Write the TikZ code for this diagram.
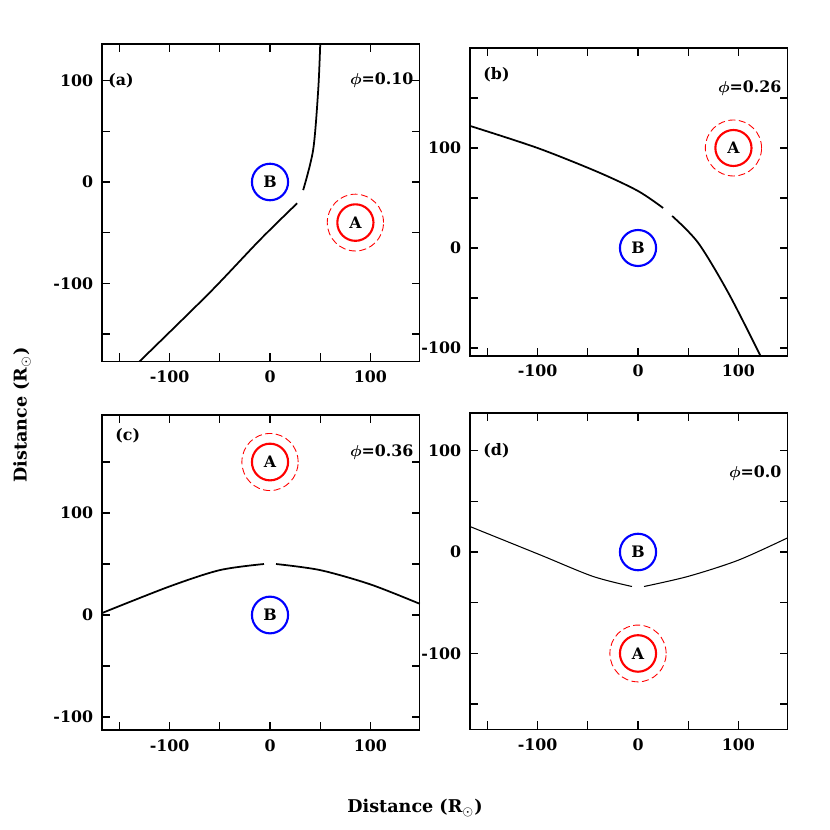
\documentclass[tikz,border=0pt]{standalone}
\usepackage{amsmath}
\usepackage{fontspec}
\setmainfont{DejaVu Serif}
\begin{document}
\tikzset{
  starA/.style={red, line width=1.2pt},
  starAout/.style={red, dashed, dash pattern=on 4pt off 2pt, line width=0.5pt},
  starB/.style={blue, line width=1.2pt},
  orbit/.style={line width=1pt},
  lab/.style={font=\bfseries\small},
  starlab/.style={font=\bfseries\small, text=black},
}
% frame with ticks every 50 units: xmin, xmax, ymin, ymax
\newcommand\panelframe[4]{%
  \draw[line width=0.9pt] (#1,#3) rectangle (#2,#4);
  \foreach \t in {-150,-100,...,100} {
    \draw[line width=0.8pt] (\t,#3) -- ++(0,8);
    \draw[line width=0.8pt] (\t,#4) -- ++(0,-8);
  }
  \foreach \t in {-150,-100,...,200} {
    \ifdim \t pt>#3pt \ifdim \t pt<#4pt
      \draw[line width=0.8pt] (#1,\t) -- ++(8,0);
      \draw[line width=0.8pt] (#2,\t) -- ++(-8,0);
    \fi\fi
  }
  \foreach \t in {-100,0,100}
    \node[lab, below] at (\t,#3-3) {\t};
}
\newcommand\ylabels[1]{%
  \foreach \t in {#1}
    \node[lab, left] at (-170,\t) {\t};
}
\begin{tikzpicture}[x=0.02cm, y=-0.02cm]
\useasboundingbox (0,0) rectangle (830,830);

% panel (a)
\begin{scope}[shift={(270,182)}, x=0.0201cm, y=0.0203cm]
  \panelframe{-167}{149}{-177}{136}
  \ylabels{-100,0,100}
  \node[lab, right] at (-167,100) {(a)};
  \node[lab, left] at (149,100) {$\boldsymbol{\phi}$=0.10};
  \draw[starB] (0,0) circle (18) node[starlab] (Ba) {B};
  \draw[starA] (85,-40) circle (18) node[starlab] (Aa) {A};
  \draw[starAout] (85,-40) circle (28);
  \draw[orbit] plot[smooth] coordinates {(-130,-177) (-60,-109) (-10,-57) (27,-21)};
  \draw[orbit] plot[smooth] coordinates {(33,-8) (43,32) (48,91) (50,136)};
\end{scope}

% panel (b)
\begin{scope}[shift={(638,248)}, x=0.0201cm, y=0.0200cm]
  \panelframe{-167}{149}{-108}{200}
  \ylabels{-100,0,100}
  \node[lab, right] at (-160,173) {(b)};
  \node[lab, left] at (149,160) {$\boldsymbol{\phi}$=0.26};
  \draw[starB] (0,0) circle (18) node[starlab] (Bb) {B};
  \draw[starA] (95,100) circle (18) node[starlab] (Ab) {A};
  \draw[starAout] (95,100) circle (28);
  \draw[orbit] plot[smooth] coordinates {(-167,122) (-100,100) (-40,76) (0,57) (25,40)};
  \draw[orbit] plot[smooth] coordinates {(34,32) (60,5) (90,-45) (122,-108)};
\end{scope}

% panel (c)
\begin{scope}[shift={(270,615)}, x=0.0201cm, y=0.0204cm]
  \panelframe{-167}{149}{-113}{196}
  \ylabels{-100,0,100}
  \node[lab, right] at (-160,176) {(c)};
  \node[lab, left] at (149,160) {$\boldsymbol{\phi}$=0.36};
  \draw[starB] (0,0) circle (18) node[starlab] (Bc) {B};
  \draw[starA] (0,150) circle (18) node[starlab] (Ac) {A};
  \draw[starAout] (0,150) circle (28);
  \draw[orbit] plot[smooth] coordinates {(-167,2) (-100,28) (-50,44) (-6,50)};
  \draw[orbit] plot[smooth] coordinates {(6,50) (50,44) (100,30) (149,11)};
\end{scope}

% panel (d)
\begin{scope}[shift={(638,552)}, x=0.0201cm, y=0.0203cm]
  \panelframe{-167}{149}{-175}{137}
  \ylabels{-100,0,100}
  \node[lab, right] at (-160,100) {(d)};
  \node[lab, left] at (149,78) {$\boldsymbol{\phi}$=0.0};
  \draw[starB] (0,0) circle (18) node[starlab] (Bd) {B};
  \draw[starA] (0,-100) circle (18) node[starlab] (Ad) {A};
  \draw[starAout] (0,-100) circle (28);
  \draw[line width=0.6pt] plot[smooth] coordinates {(-167,25) (-97,-3) (-45,-24) (-6,-34)};
  \draw[line width=0.6pt] plot[smooth] coordinates {(6,-34) (50,-24) (100,-8) (149,14)};
\end{scope}

\node[font=\bfseries] (xlab) at (415,808) {Distance (R$_\odot$)};
\node[font=\bfseries, rotate=90] (ylab) at (22,415) {Distance (R$_\odot$)};
\end{tikzpicture}
\end{document}
